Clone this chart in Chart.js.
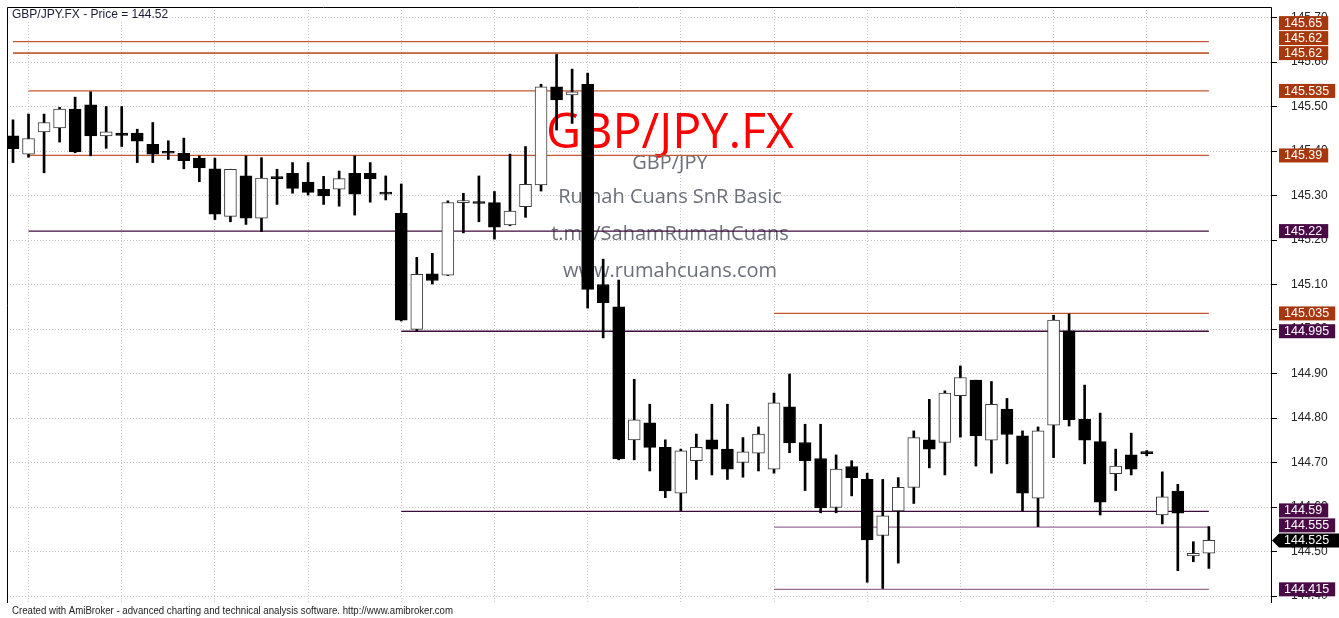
<!DOCTYPE html>
<html>
<head>
<meta charset="utf-8">
<script src="https://cdn.jsdelivr.net/npm/chart.js@4"></script>
<style>
  html, body { margin: 0; padding: 0; background: #fff; }
  #wrap { width: 1339px; height: 618px; position: relative; }
</style>
</head>
<body>
<div id="wrap"><canvas id="myChart"></canvas></div>
<script>
// GBP/JPY.FX candles
const openPrices = [145.434, 145.393, 145.443, 145.452, 145.494, 145.504, 145.434, 145.440, 145.440, 145.415,
  145.395, 145.395, 145.384, 145.360, 145.253, 145.344, 145.249, 145.338, 145.350, 145.330,
  145.314, 145.314, 145.350, 145.350, 145.303, 145.260, 144.999, 145.124, 145.121, 145.284,
  145.282, 145.284, 145.234, 145.275, 145.324, 145.544, 145.526, 145.550, 145.100, 145.050,
  144.751, 144.789, 144.734, 144.631, 144.704, 144.751, 144.730, 144.700, 144.721, 144.685,
  144.825, 144.745, 144.709, 144.599, 144.691, 144.662, 144.536, 144.591, 144.644, 144.751,
  144.745, 144.850, 144.885, 144.750, 144.820, 144.760, 144.620, 144.784, 144.996, 144.797,
  144.747, 144.675, 144.717, 144.720, 144.582, 144.636, 144.490, 144.496];
const highPrices = [145.470, 145.483, 145.483, 145.498, 145.521, 145.533, 145.500, 145.500, 145.449, 145.464,
  145.423, 145.429, 145.389, 145.384, 145.359, 145.389, 145.385, 145.359, 145.374, 145.374,
  145.343, 145.355, 145.389, 145.374, 145.344, 145.326, 145.161, 145.170, 145.288, 145.305,
  145.344, 145.309, 145.393, 145.410, 145.550, 145.617, 145.584, 145.575, 145.157, 145.110,
  144.887, 144.831, 144.751, 144.730, 144.764, 144.831, 144.831, 144.756, 144.780, 144.856,
  144.899, 144.786, 144.786, 144.717, 144.704, 144.676, 144.662, 144.666, 144.771, 144.842,
  144.861, 144.917, 144.885, 144.882, 144.844, 144.771, 144.780, 145.031, 145.034, 144.874,
  144.811, 144.730, 144.766, 144.727, 144.679, 144.651, 144.522, 144.556];
const lowPrices = [145.374, 145.386, 145.351, 145.420, 145.396, 145.389, 145.406, 145.410, 145.374, 145.374,
  145.381, 145.360, 145.331, 145.246, 145.241, 145.235, 145.219, 145.280, 145.305, 145.301,
  145.280, 145.276, 145.256, 145.285, 145.290, 145.018, 144.996, 145.101, 145.120, 145.216,
  145.241, 145.202, 145.232, 145.251, 145.310, 145.447, 145.462, 145.047, 144.980, 144.706,
  144.706, 144.681, 144.621, 144.592, 144.662, 144.672, 144.662, 144.667, 144.681, 144.676,
  144.722, 144.637, 144.587, 144.587, 144.625, 144.431, 144.417, 144.474, 144.608, 144.688,
  144.672, 144.757, 144.692, 144.676, 144.697, 144.591, 144.556, 144.711, 144.782, 144.697,
  144.582, 144.637, 144.672, 144.715, 144.562, 144.457, 144.477, 144.462];
const closePrices = [145.405, 145.428, 145.464, 145.494, 145.398, 145.434, 145.443, 145.435, 145.422, 145.393,
  145.395, 145.378, 145.362, 145.258, 145.359, 145.249, 145.339, 145.338, 145.316, 145.307,
  145.299, 145.338, 145.303, 145.338, 145.303, 145.020, 145.123, 145.109, 145.284, 145.288,
  145.282, 145.229, 145.265, 145.325, 145.544, 145.515, 145.533, 145.089, 145.059, 144.708,
  144.796, 144.734, 144.636, 144.726, 144.734, 144.730, 144.685, 144.724, 144.764, 144.834,
  144.744, 144.704, 144.598, 144.685, 144.666, 144.526, 144.580, 144.644, 144.756, 144.730,
  144.856, 144.891, 144.760, 144.831, 144.763, 144.631, 144.771, 145.020, 144.796, 144.750,
  144.611, 144.692, 144.685, 144.720, 144.623, 144.586, 144.496, 144.525];

// SnR levels
const levelValues = [145.646, 145.62, 145.62, 145.535, 145.39, 145.22, 145.035, 144.995, 144.59, 144.555, 144.415];
const levelTexts  = ['145.65', '145.62', '145.62', '145.535', '145.39', '145.22', '145.035', '144.995', '144.59', '144.555', '144.415'];
const levelKinds  = ['res', 'res', 'res', 'res', 'res', 'sup', 'res', 'sup', 'sup', 'sup2', 'sup2'];
const levelFrom   = [0, 0, 0, 1, 1, 1, 49, 25, 25, 49, 49];
const levelTo = 77;

const yTickValues = [144.4, 144.5, 144.6, 144.7, 144.8, 144.9, 145.0, 145.1, 145.2, 145.3, 145.4, 145.5, 145.6, 145.7];
const xGridBars = [1, 7, 13, 19, 25, 31, 37, 43, 49, 55, 61, 67, 73];

const lineColor = { res: '#c4582f', sup: '#3e0c3c', sup2: '#9a6a98' };
const boxColor  = { res: '#a8380c', sup: '#4a0a46', sup2: '#4a0a46' };

const isUp = openPrices.map((o, i) => closePrices[i] > o);

const bodyData = openPrices.map((o, i) => ({ x: i, y: [o, closePrices[i]] }));
const wickData = openPrices.map((o, i) => ({ x: i, y: [lowPrices[i], highPrices[i]] }));

const levelSets = levelValues.map((v, i) => ({
  type: 'line',
  data: [{ x: levelFrom[i], y: v }, { x: levelTo, y: v }],
  borderColor: lineColor[levelKinds[i]],
  borderWidth: 1.3,
  pointRadius: 0,
  fill: false
}));

const watermark = {
  id: 'watermark',
  beforeDatasetsDraw(chart) {
    const c = chart.ctx;
    c.save();
    c.textAlign = 'center';
    c.textBaseline = 'alphabetic';
    c.fillStyle = '#ff0000';
    c.font = '49px "Open Sans"';
    c.fillText('GBP/JPY.FX', 670, 148, 248);
    c.fillStyle = '#6b6f79';
    c.font = '20px "Open Sans"';
    c.fillText('GBP/JPY', 670, 169);
    c.fillText('Rumah Cuans SnR Basic', 670, 203, 236);
    c.fillText('t.me/SahamRumahCuans', 670, 240, 242);
    c.fillText('www.rumahcuans.com', 670, 277, 220);
    c.restore();
  }
};

const overlay = {
  id: 'overlay',
  afterDraw(chart) {
    const c = chart.ctx;
    const a = chart.chartArea;
    const y = chart.scales.y;
    c.save();
    // frame
    c.strokeStyle = '#000';
    c.lineWidth = 1;
    c.beginPath();
    c.moveTo(a.left + 0.5, a.bottom);
    c.lineTo(a.left + 0.5, a.top + 0.5);
    c.lineTo(a.right + 0.5, a.top + 0.5);
    c.lineTo(a.right + 0.5, a.bottom);
    c.stroke();

    // title
    c.font = '12px "Liberation Sans", Arial';
    c.textBaseline = 'alphabetic';
    c.textAlign = 'left';
    const title = 'GBP/JPY.FX - Price = 144.52';
    const tw = c.measureText(title).width;
    c.fillStyle = '#fff';
    c.fillRect(a.left + 1, a.top + 1, tw + 6, 14);
    c.fillStyle = '#1c1c3a';
    c.fillText(title, 12, 18);

    // footer
    c.font = '10px "Liberation Sans", Arial';
    c.fillStyle = '#222';
    c.fillText('Created with AmiBroker - advanced charting and technical analysis software. http://www.amibroker.com', 12, 614, 441);

    // right-side labels, stacked from bottom up
    const last = closePrices[closePrices.length - 1];
    const items = levelValues.map((v, i) => ({ py: y.getPixelForValue(v), text: levelTexts[i], color: boxColor[levelKinds[i]], arrow: false }));
    items.push({ py: y.getPixelForValue(last), text: last.toFixed(3), color: '#000', arrow: true });
    items.sort((p, q) => q.py - p.py);
    let prev = Infinity;
    c.font = '12.5px "Liberation Sans", Arial';
    c.textBaseline = 'middle';
    items.forEach(it => {
      const cy = Math.min(it.py, prev - 15);
      prev = cy;
      const w = c.measureText(it.text).width;
      c.fillStyle = it.color;
      if (it.arrow) {
        c.beginPath();
        c.moveTo(a.right + 1, cy);
        c.lineTo(a.right + 8, cy - 7);
        c.lineTo(1339, cy - 7);
        c.lineTo(1339, cy + 7);
        c.lineTo(a.right + 8, cy + 7);
        c.closePath();
        c.fill();
      } else {
        c.fillRect(a.right + 8, cy - 7, w + 11, 14);
      }
      c.fillStyle = '#fff';
      c.fillText(it.text, a.right + 13, cy + 0.5);
    });
    c.restore();
  }
};

const ctx = document.getElementById('myChart').getContext('2d');
new Chart(ctx, {
  type: 'bar',
  data: {
    datasets: [
      {
        data: bodyData,
        backgroundColor: isUp.map(u => u ? '#ffffff' : '#000000'),
        borderColor: isUp.map(u => u ? '#3a3a3a' : '#000000'),
        borderWidth: 1,
        borderSkipped: false,
        barThickness: 12,
        minBarLength: 2,
        grouped: false
      },
      {
        data: wickData,
        backgroundColor: '#000000',
        borderWidth: 0,
        barThickness: 2,
        grouped: false
      },
      ...levelSets
    ]
  },
  options: {
    responsive: true,
    maintainAspectRatio: false,
    animation: false,
    layout: { padding: { left: 7, top: 7, right: 0, bottom: 15 } },
    plugins: { legend: { display: false }, tooltip: { enabled: false } },
    scales: {
      x: {
        type: 'linear',
        min: -0.386,
        max: 81.0,
        offset: false,
        grid: { offset: false, color: '#c6c6c6', drawTicks: false },
        border: { display: false, dash: [1, 2] },
        ticks: { display: false },
        afterBuildTicks: s => { s.ticks = xGridBars.map(v => ({ value: v })); },
        afterFit: s => { s.height = 0; s.paddingLeft = 0; s.paddingRight = 0; }
      },
      y: {
        position: 'right',
        min: 144.3843,
        max: 145.7236,
        grid: { color: '#c6c6c6', tickColor: '#000', tickLength: 6, tickBorderDash: [] },
        border: { display: false, dash: [1, 2] },
        ticks: {
          padding: 14,
          color: '#222',
          font: { family: '"Liberation Sans", Arial', size: 12 },
          callback: v => Number(v).toFixed(2)
        },
        afterBuildTicks: s => { s.ticks = yTickValues.map(v => ({ value: v })); },
        afterFit: s => { s.width = 68; s.paddingTop = 0; s.paddingBottom = 0; }
      }
    }
  },
  plugins: [watermark, overlay]
});
</script>
</body>
</html>
